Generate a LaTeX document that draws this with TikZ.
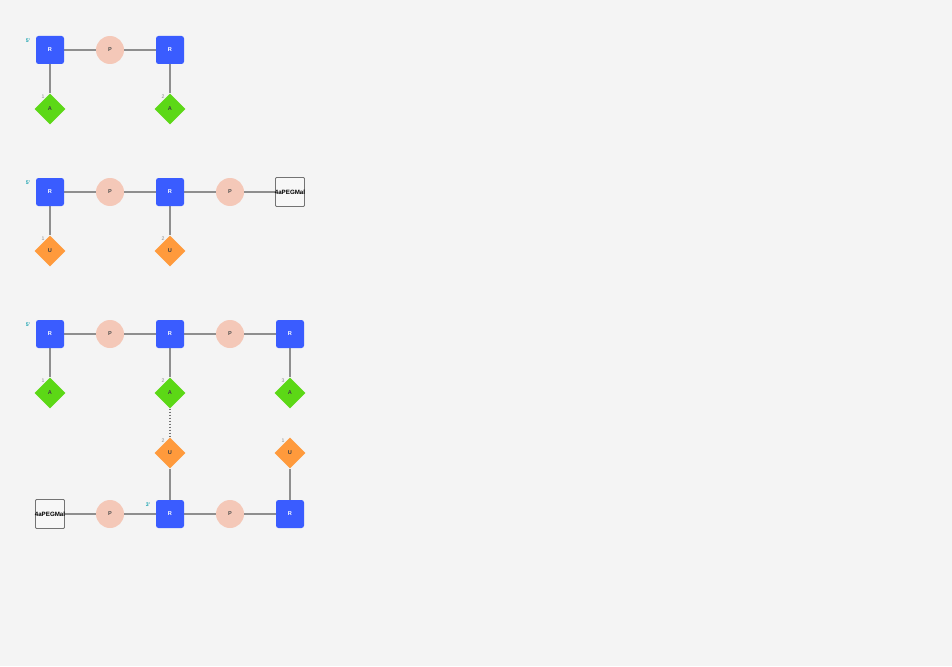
\documentclass[tikz,border=0pt]{standalone}
\usepackage{fontspec}
\setmainfont{Liberation Sans}
\usetikzlibrary{shapes.geometric,backgrounds}
\definecolor{bgc}{HTML}{F4F4F4}
\definecolor{ribose}{HTML}{3A5CFF}
\definecolor{phos}{HTML}{F4C8B8}
\definecolor{adenine}{HTML}{5CD816}
\definecolor{uracil}{HTML}{FF9A3C}
\definecolor{bond}{HTML}{8E8E8E}
\definecolor{endlab}{HTML}{1AA3B0}
\newcommand{\overhang}[1]{\makebox[0pt][c]{#1}}
\tikzset{
  x=1pt, y=-1pt,
  base/.style={inner sep=0pt, font=\fontsize{5.6}{5.6}\selectfont\bfseries},
  rib/.style={base, rectangle, rounded corners=2.5pt, fill=ribose, minimum size=28pt, text=white},
  pho/.style={base, circle, fill=phos, minimum size=28pt, text=black!70},
  ade/.style={base, diamond, fill=adenine, minimum size=31pt, text=black!75},
  ura/.style={base, diamond, fill=uracil, minimum size=31pt, text=black!75},
  linker/.style={base, rectangle, rounded corners=1pt, draw=black!55, line width=0.9pt, fill=white!97!black, minimum size=29pt, font=\fontsize{6.2}{6.2}\selectfont\bfseries},
  bondline/.style={draw=bond, line width=1.6pt},
  pairline/.style={draw=black!55, line width=1.4pt, dash pattern=on 1.4pt off 1.6pt},
  endtag/.style={font=\fontsize{5.2}{5.2}\selectfont\bfseries, text=endlab, inner sep=0pt},
  numtag/.style={font=\fontsize{5.2}{5.2}\selectfont, text=black!45, inner sep=0pt}
}
\begin{document}
\begin{tikzpicture}
\useasboundingbox (0,0) rectangle (952,666);

% --- strand 1 ---
\node[rib] (a1) at (50,50) {R};
\node[pho] (a2) at (110,50) {P};
\node[rib] (a3) at (170,50) {R};
\node[ade] (a4) at (50,109) {A};
\node[ade] (a5) at (170,109) {A};
\node[endtag] (a6) at (28,41) {5'};
\node[numtag] (a7) at (43,97) {1};
\node[numtag] (a8) at (163,97) {2};

% --- strand 2 ---
\node[rib] (b1) at (50,192) {R};
\node[pho] (b2) at (110,192) {P};
\node[rib] (b3) at (170,192) {R};
\node[pho] (b4) at (230,192) {P};
\node[linker] (b5) at (290,192) {\overhang{4aPEGMal}};
\node[ura] (b6) at (50,251) {U};
\node[ura] (b7) at (170,251) {U};
\node[endtag] (b8) at (28,183) {5'};
\node[numtag] (b9) at (43,239) {1};
\node[numtag] (b10) at (163,239) {2};

% --- duplex: upper strand ---
\node[rib] (c1) at (50,334) {R};
\node[pho] (c2) at (110,334) {P};
\node[rib] (c3) at (170,334) {R};
\node[pho] (c4) at (230,334) {P};
\node[rib] (c5) at (290,334) {R};
\node[ade] (c6) at (50,393) {A};
\node[ade] (c7) at (170,393) {A};
\node[ade] (c8) at (290,393) {A};
\node[endtag] (c9) at (28,325) {5'};
\node[numtag] (c10) at (43,381) {1};
\node[numtag] (c11) at (163,381) {2};
\node[numtag] (c12) at (283,381) {3};

% --- duplex: lower strand ---
\node[linker] (d1) at (50,514) {\overhang{4aPEGMal}};
\node[pho] (d2) at (110,514) {P};
\node[rib] (d3) at (170,514) {R};
\node[pho] (d4) at (230,514) {P};
\node[rib] (d5) at (290,514) {R};
\node[ura] (d6) at (170,453) {U};
\node[ura] (d7) at (290,453) {U};
\node[endtag] (d8) at (148,505) {3'};
\node[numtag] (d9) at (163,441) {2};
\node[numtag] (d10) at (283,441) {1};

\begin{scope}[on background layer]
\fill[bgc] (0,0) rectangle (952,666);
\draw[bondline] (a1) -- (a2) -- (a3);
\draw[bondline] (a1) -- (a4);
\draw[bondline] (a3) -- (a5);
\draw[bondline] (b1) -- (b2) -- (b3) -- (b4) -- (b5);
\draw[bondline] (b1) -- (b6);
\draw[bondline] (b3) -- (b7);
\draw[bondline] (c1) -- (c2) -- (c3) -- (c4) -- (c5);
\draw[bondline] (c1) -- (c6);
\draw[bondline] (c3) -- (c7);
\draw[bondline] (c5) -- (c8);
\draw[bondline] (d1) -- (d2) -- (d3) -- (d4) -- (d5);
\draw[bondline] (d3) -- (d6);
\draw[bondline] (d5) -- (d7);
\end{scope}
\draw[pairline] (c7.south) -- (d6.north);
\end{tikzpicture}
\end{document}
